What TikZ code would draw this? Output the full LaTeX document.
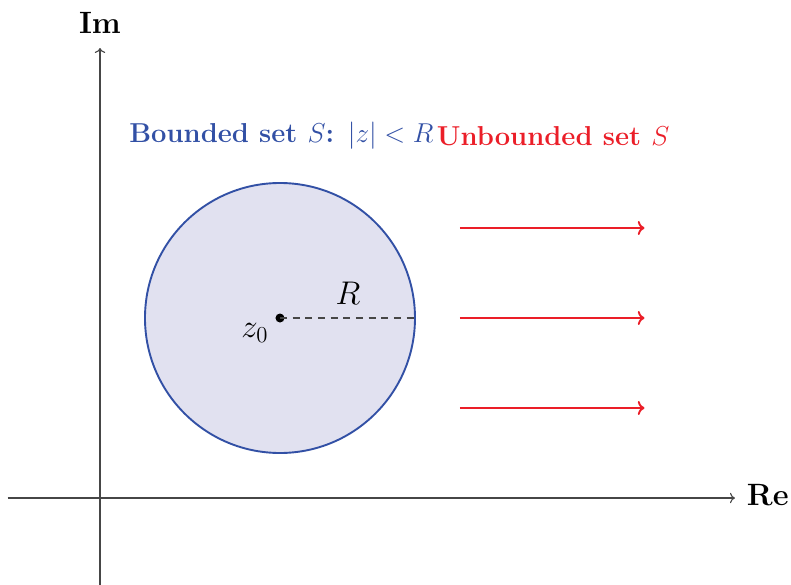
\documentclass[tikz,border=0pt]{standalone}
\usetikzlibrary{arrows.meta}
\definecolor{setblue}{RGB}{50,80,165}
\definecolor{setfill}{RGB}{225,225,240}
\definecolor{setred}{RGB}{235,30,40}
\definecolor{axisgray}{RGB}{70,70,70}
\begin{document}
\begin{tikzpicture}[x=1cm,y=1cm,
  axisline/.style={draw=axisgray, line width=0.7pt, ->},
  axislabel/.style={font=\fontsize{19.5}{23}\selectfont\bfseries, inner sep=0pt},
  setlabel/.style={font=\fontsize{17.3}{21}\selectfont\bfseries, inner sep=0pt, anchor=base},
  redarrow/.style={draw=setred, line width=1.2pt, ->},
  mathlabel/.style={font=\fontsize{19.5}{23}\selectfont, inner sep=0pt, anchor=base}]
\useasboundingbox (-2.222,-1.933) rectangle (15.356,11.067);
\coordinate (xs) at (-2.05,0);
\coordinate (xe) at (14.11,0);
\coordinate (ys) at (0,-1.95);
\coordinate (ye) at (0,10);
\draw[axisline] (xs) -- (xe);
\draw[axisline] (ys) -- (ye);
\node[axislabel, anchor=base] (im) at (0,10.33) {Im};
\node[axislabel, anchor=base west] (re) at (14.37,-0.16) {Re};
\node[circle, draw=setblue, fill=setfill, minimum size=6cm, inner sep=0pt, line width=1.2pt] (disk) at (4,4) {};
\node[circle, fill=black, minimum size=0.2cm, inner sep=0pt] (center) at (4,4) {};
\draw[axisgray, dash pattern=on 4.5pt off 3.5pt, line width=0.7pt] (center.center) -- (disk.east);
\node[mathlabel] (rlab) at (5.51,4.29) {$R$};
\node[mathlabel] (zlab) at (3.44,3.56) {$z_0$};
\node[setlabel, text=setblue] (bounded) at (4.03,7.90) {Bounded set $S$: $|z|<R$};
\node[setlabel, text=setred] (unbounded) at (10.07,7.83) {Unbounded set $S$};
\coordinate (a1s) at (8,6);   \coordinate (a1e) at (12.1,6);
\coordinate (a2s) at (8,4);   \coordinate (a2e) at (12.1,4);
\coordinate (a3s) at (8,2);   \coordinate (a3e) at (12.1,2);
\draw[redarrow] (a1s) -- (a1e);
\draw[redarrow] (a2s) -- (a2e);
\draw[redarrow] (a3s) -- (a3e);
\end{tikzpicture}
\end{document}
